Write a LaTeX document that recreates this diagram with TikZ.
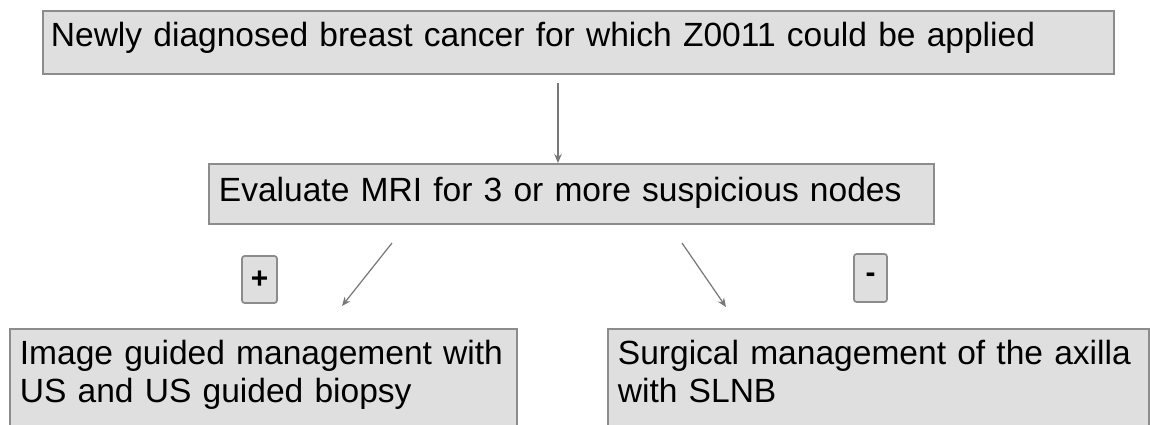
\documentclass[tikz,border=0pt]{standalone}
\usepackage{fontspec}
\setmainfont{Liberation Sans}
\usepackage{tikz}
\usetikzlibrary{arrows.meta}
\definecolor{caja gris}{RGB}{223,223,223}
\definecolor{borde gris}{RGB}{140,140,140}
\definecolor{flecha gris}{RGB}{120,120,120}

\begin{document}
\begin{tikzpicture}[x=0.02cm, y=-0.02cm, font=\fontsize{19.1}{21.6}\selectfont,
    caja/.style={draw=borde gris, line width=1pt, fill=caja gris, anchor=north west, inner ysep=0pt, align=left},
    signo/.style={draw=borde gris, line width=1pt, fill=caja gris, rounded corners=1.5pt, inner sep=0pt, font=\fontsize{17}{20}\selectfont\bfseries},
    flecha/.style={flecha gris, line width=0.7pt, -{Stealth[length=1.8mm, width=1.5mm]}}]
        \useasboundingbox (0,0) rectangle (1150,424);
        \node[caja, inner xsep=0.16cm, text width=21.10cm, text height=0.72cm, text depth=0.54cm] (nuevo) at (42,10) {Newly diagnosed breast cancer for which Z0011 could be applied};
        \node[caja, inner xsep=0.20cm, text width=14.10cm, text height=0.76cm, text depth=0.44cm] (mri) at (208,163) {Evaluate MRI for 3 or more suspicious nodes};
        \node[caja, inner xsep=0.20cm, text width=9.74cm, text height=0.72cm, text depth=1.52cm] (imagen) at (9,328) {Image guided management with\\US and US guided biopsy};
        \node[caja, inner xsep=0.20cm, text width=10.42cm, text height=0.72cm, text depth=1.52cm] (cirugia) at (607,328) {Surgical management of the axilla\\with SLNB};
        \node[signo, minimum width=0.70cm, minimum height=0.94cm] (mas) at (259.5,279.5) {+};
        \node[signo, minimum width=0.66cm, minimum height=0.96cm] (menos) at (870.5,278) {-};
        \coordinate (f0) at (558,83);
        \coordinate (f1a) at (392,243);
        \coordinate (f1b) at (342,306);
        \coordinate (f2a) at (682,243);
        \coordinate (f2b) at (726,307);
        \draw[flecha] (f0) -- (f0 |- mri.north);
        \draw[flecha] (f1a) -- (f1b);
        \draw[flecha] (f2a) -- (f2b);
      \end{tikzpicture}
\end{document}
